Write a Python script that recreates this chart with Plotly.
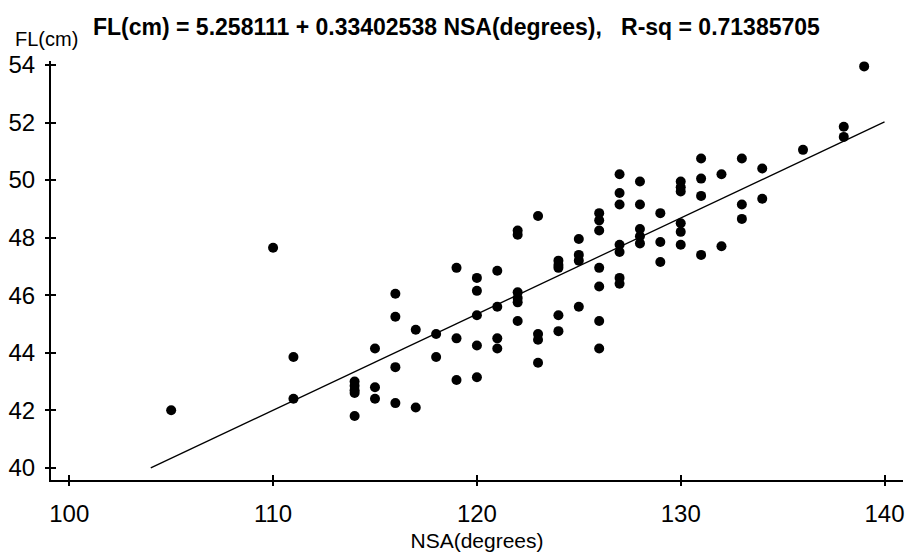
import numpy as np
import plotly.graph_objects as go

# Neck-shaft angle (degrees) and femur length (cm) for each subject
nsa = [105,
       110,
       111, 111,
       114, 114, 114, 114, 114,
       115, 115, 115,
       116, 116, 116, 116,
       117, 117,
       118, 118,
       119, 119, 119,
       120, 120, 120, 120, 120,
       121, 121, 121, 121,
       122, 122, 122, 122, 122, 122,
       123, 123, 123, 123,
       124, 124, 124, 124, 124,
       125, 125, 125, 125,
       126, 126, 126, 126, 126, 126, 126,
       127, 127, 127, 127, 127, 127, 127,
       128, 128, 128, 128, 128,
       129, 129, 129,
       130, 130, 130, 130, 130, 130,
       131, 131, 131, 131,
       132, 132,
       133, 133, 133,
       134, 134,
       136,
       138, 138,
       139]

fl = [42.0,
      47.65,
      43.85, 42.4,
      43.0, 42.85, 42.7, 42.6, 41.8,
      44.15, 42.8, 42.4,
      46.05, 45.25, 43.5, 42.25,
      44.8, 42.1,
      44.65, 43.85,
      46.95, 44.5, 43.05,
      46.6, 46.15, 45.3, 44.25, 43.15,
      46.85, 45.6, 44.5, 44.15,
      48.25, 48.1, 46.1, 45.9, 45.75, 45.1,
      48.75, 44.65, 44.45, 43.65,
      47.2, 47.05, 46.95, 45.3, 44.75,
      47.95, 47.4, 47.2, 45.6,
      48.85, 48.6, 48.25, 46.95, 46.3, 45.1, 44.15,
      50.2, 49.55, 49.15, 47.75, 47.5, 46.6, 46.4,
      49.95, 49.15, 48.3, 48.05, 47.8,
      48.85, 47.85, 47.15,
      49.95, 49.75, 49.6, 48.5, 48.2, 47.75,
      50.75, 50.05, 49.45, 47.4,
      50.2, 47.7,
      50.75, 49.15, 48.65,
      50.4, 49.35,
      51.05,
      51.85, 51.5,
      53.95]

# Fitted regression reported in the heading
intercept = 5.258111
slope = 0.33402538
r_sq = 0.71385705
fit_x = np.array([104.0, 140.0])
fit_y = intercept + slope * fit_x

x_ticks = [100, 110, 120, 130, 140]
y_ticks = [40, 42, 44, 46, 48, 50, 52, 54]

W, H = 910, 554
ML, MR, MT, MB = 51, 5, 61, 69
PW, PH = W - ML - MR, H - MT - MB


def paper_x(px):
    return (px - ML) / PW


def paper_y(py):
    return (H - MB - py) / PH


FONT = "Liberation Sans Narrow, Liberation Sans, Arial, sans-serif"

fig = go.Figure()
fig.add_trace(go.Scatter(
    x=nsa, y=fl, mode="markers",
    marker=dict(color="black", size=10, line=dict(width=0)),
    showlegend=False, hoverinfo="x+y", cliponaxis=False,
))
fig.add_trace(go.Scatter(
    x=fit_x, y=fit_y, mode="lines",
    line=dict(color="black", width=1.3),
    showlegend=False, hoverinfo="skip",
))
# empty trace so the overlay axes (inner half of each tick) get drawn
fig.add_trace(go.Scatter(x=[None], y=[None], xaxis="x2", yaxis="y2",
                         showlegend=False, hoverinfo="skip"))

xr = [99.104, 140.906]
yr = [39.578, 54.137]

axis_common = dict(
    showgrid=False, zeroline=False, showline=True,
    linecolor="black", linewidth=2,
    ticks="outside", ticklen=4, tickwidth=1.5, tickcolor="black",
    tickfont=dict(family=FONT, size=24, color="black"),
)

fig.update_layout(
    width=W, height=H,
    margin=dict(l=ML, r=MR, t=MT, b=MB, pad=0),
    paper_bgcolor="white", plot_bgcolor="white",
    xaxis=dict(range=xr, tickvals=x_ticks, ticklabelstandoff=7,
               title=dict(text="NSA(degrees)", standoff=8,
                          font=dict(family=FONT, size=21, color="black")),
               **axis_common),
    yaxis=dict(range=yr, tickvals=y_ticks, ticklabelstandoff=5,
               **axis_common),
    xaxis2=dict(range=xr, tickvals=x_ticks, overlaying="x", anchor="y2",
                side="bottom", showline=False, showgrid=False, zeroline=False,
                ticks="inside", ticklen=5, tickwidth=1.5, tickcolor="black",
                showticklabels=False),
    yaxis2=dict(range=yr, tickvals=y_ticks, overlaying="y", anchor="x2",
                side="left", showline=False, showgrid=False, zeroline=False,
                ticks="inside", ticklen=5, tickwidth=1.5, tickcolor="black",
                showticklabels=False),
    annotations=[
        dict(text=f"<b>FL(cm) = {intercept} + {slope} NSA(degrees),   R-sq = {r_sq}</b>",
             xref="paper", yref="paper", x=paper_x(91), y=paper_y(27),
             xanchor="left", yanchor="middle", showarrow=False,
             font=dict(family=FONT, size=23, color="black")),
        dict(text="FL(cm)", xref="paper", yref="paper",
             x=paper_x(13), y=paper_y(39), xanchor="left", yanchor="middle",
             showarrow=False, font=dict(family=FONT, size=20, color="black")),
    ],
)

fig.write_html("out.html")
